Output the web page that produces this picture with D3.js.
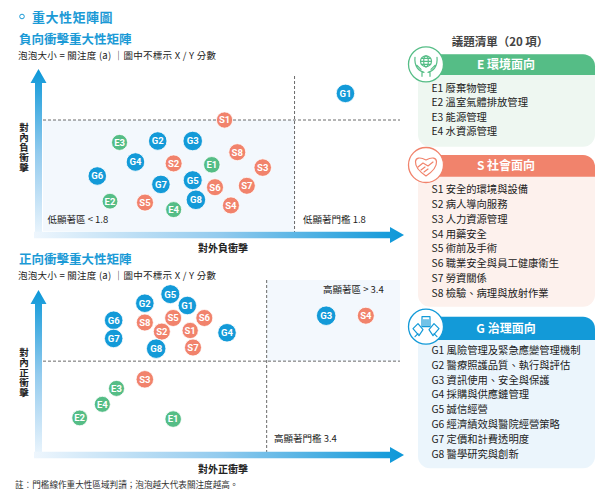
<!DOCTYPE html>
<html>
<head>
<meta charset="utf-8">
<script src="https://cdn.jsdelivr.net/npm/d3@7"></script>
<style>
  body { margin: 0; background: #fff; }
  svg { display: block; font-family: "Noto Sans CJK TC", "Noto Sans", sans-serif; }
</style>
</head>
<body>
<svg id="chart" width="609" height="501"></svg>
<script>
// issue codes, E / S / G
const issues = ["E1","E2","E3","E4","S1","S2","S3","S4","S5","S6","S7","S8","G1","G2","G3","G4","G5","G6","G7","G8"];
// attention (a) -> bubble size
const attention = [3.90,3.75,3.80,3.80, 3.85,4.00,4.10,4.00,4.00,4.00,4.00,4.00, 4.30,4.30,4.50,4.30,4.40,4.30,4.30,4.50];
// negative impact: external (x) / internal (y)
const negExternal = [1.54,1.22,1.25,1.42, 1.58,1.42,1.70,1.60,1.33,1.55,1.65,1.62, 1.96,1.37,1.48,1.30,1.48,1.18,1.38,1.49];
const negInternal = [1.48,1.22,1.64,1.16, 1.80,1.49,1.46,1.19,1.21,1.32,1.33,1.57, 1.99,1.65,1.65,1.50,1.37,1.40,1.34,1.23];
// positive impact: external (x) / internal (y)
const posExternal = [3.07,2.74,2.87,2.82, 3.13,3.03,2.97,3.75,3.07,3.18,3.14,2.97, 3.12,2.97,3.61,3.26,3.06,2.86,2.86,3.01];
const posInternal = [2.89,2.90,3.16,3.02, 3.67,3.66,3.24,3.80,3.78,3.78,3.52,3.74, 3.89,3.91,3.80,3.65,3.99,3.76,3.60,3.51];

const lowThreshold = 1.8;
const highThreshold = 3.4;

const envItems = ["E1 廢棄物管理","E2 溫室氣體排放管理","E3 能源管理","E4 水資源管理"];
const socItems = ["S1 安全的環境與設備","S2 病人導向服務","S3 人力資源管理","S4 用藥安全","S5 術前及手術","S6 職業安全與員工健康衛生","S7 勞資關係","S8 檢驗、病理與放射作業"];
const govItems = ["G1 風險管理及緊急應變管理機制","G2 醫療照護品質、執行與評估","G3 資訊使用、安全與保護","G4 採購與供應鏈管理","G5 誠信經營","G6 經濟績效與醫院經營策略","G7 定價和計費透明度","G8 醫學研究與創新"];

const colors = { E: "#55bd86", S: "#f1836c", G: "#139ad8" };
const blue = "#1b9ad6";

const svg = d3.select("#chart");
const defs = svg.append("defs");

const r = d3.scaleLinear().domain([3.6, 4.6]).range([7.5, 10]);

function gradient(id, x1, y1, x2, y2) {
  const g = defs.append("linearGradient").attr("id", id)
    .attr("gradientUnits", "userSpaceOnUse")
    .attr("x1", x1).attr("y1", y1).attr("x2", x2).attr("y2", y2);
  g.append("stop").attr("offset", 0).attr("stop-color", "#eef6fd");
  g.append("stop").attr("offset", 0.5).attr("stop-color", "#93cbee");
  g.append("stop").attr("offset", 1).attr("stop-color", "#0b97d8");
}

function vArrow(x, yTop, yBottom, id) {
  gradient(id, 0, yBottom, 0, yTop);
  svg.append("path")
    .attr("d", `M${x-3.5},${yBottom} V${yTop+14} H${x-8} L${x},${yTop} L${x+8},${yTop+14} H${x+3.5} V${yBottom} Z`)
    .attr("fill", `url(#${id})`);
}

function hArrow(y, xLeft, xRight, id) {
  gradient(id, xLeft, 0, xRight, 0);
  svg.append("path")
    .attr("d", `M${xLeft},${y-3.3} H${xRight-14} V${y-8} L${xRight},${y} L${xRight-14},${y+8} V${y+3.3} H${xLeft} Z`)
    .attr("fill", `url(#${id})`);
}

function label(x, y, txt, size, weight, fill, anchor) {
  return svg.append("text").attr("x", x).attr("y", y)
    .attr("font-size", size).attr("font-weight", weight || 400)
    .attr("fill", fill || "#222").attr("text-anchor", anchor || "start")
    .text(txt);
}

// upright stacked characters, one text element
function vLabel(x, yTop, txt) {
  svg.append("text").attr("x", x).attr("y", yTop)
    .style("writing-mode", "vertical-rl").style("text-orientation", "upright")
    .attr("letter-spacing", 0.4)
    .attr("font-size", 9.5).attr("font-weight", 700)
    .attr("fill", "#222").text(txt);
}

function bubbles(xs, ys, x, y) {
  const data = issues.map((k, i) => ({ k, a: attention[i], vx: xs[i], vy: ys[i] }));
  const g = svg.append("g").selectAll("g").data(data).join("g")
    .attr("transform", d => `translate(${x(d.vx)},${y(d.vy)})`);
  g.append("circle").attr("r", d => r(d.a))
    .attr("fill", d => colors[d.k[0]]).attr("stroke", "#fff").attr("stroke-width", 0.8);
  g.append("text").attr("text-anchor", "middle").attr("dy", "0.36em")
    .attr("font-family", "Roboto, 'Noto Sans', sans-serif")
    .attr("font-size", 9.5).attr("font-weight", 700).attr("fill", "#fff")
    .text(d => d.k);
}

function dashed(x1, y1, x2, y2) {
  svg.append("line").attr("x1", x1).attr("y1", y1).attr("x2", x2).attr("y2", y2)
    .attr("stroke", "#444").attr("stroke-width", 0.8).attr("stroke-dasharray", "3,2");
}

// ---- header
svg.append("circle").attr("cx", 22).attr("cy", 16.5).attr("r", 2.3)
  .attr("fill", "none").attr("stroke", blue).attr("stroke-width", 1);
label(32, 21.5, "重大性矩陣圖", 13, 700, blue).attr("letter-spacing", 0.5);

// ---- negative matrix
const xNeg = d3.scaleLinear().domain([1.0, 2.1]).range([40, 390]);
const yNeg = d3.scaleLinear().domain([1.0, 2.1]).range([232, 78]);

label(19, 44, "負向衝擊重大性矩陣", 12.5, 700, blue);
label(18, 59, "泡泡大小 = 關注度 (a) ｜圖中不標示 X / Y 分數", 9.5, 400, "#222").attr("letter-spacing", 0.25);

svg.append("rect").attr("x", 43).attr("y", yNeg(lowThreshold))
  .attr("width", xNeg(lowThreshold) - 43).attr("height", 231 - yNeg(lowThreshold))
  .attr("fill", "#f3f8fd");
dashed(43, yNeg(lowThreshold), 400, yNeg(lowThreshold));
dashed(xNeg(lowThreshold), 76, xNeg(lowThreshold), 238);

vArrow(38.5, 69, 238, "gv1");
hArrow(235, 34, 404, "gh1");

label(47.5, 223, "低顯著區 < 1.8", 9.5);
label(303, 223, "低顯著門檻 1.8", 9.5);
label(223, 252, "對外負衝擊", 10, 700, "#222", "middle");
vLabel(24, 123, "對內負衝擊");

bubbles(negExternal, negInternal, xNeg, yNeg);

// ---- positive matrix
const xPos = d3.scaleLinear().domain([2.6, 3.8]).range([40, 380]);
const yPos = d3.scaleLinear().domain([2.6, 4.0]).range([452, 293]);

label(19, 264, "正向衝擊重大性矩陣", 12.5, 700, blue);
label(18, 278.5, "泡泡大小 = 關注度 (a) ｜圖中不標示 X / Y 分數", 9.5, 400, "#222").attr("letter-spacing", 0.25);

svg.append("rect").attr("x", xPos(highThreshold)).attr("y", 280)
  .attr("width", 400 - xPos(highThreshold)).attr("height", yPos(highThreshold) - 280)
  .attr("fill", "#f3f8fd");
dashed(43, yPos(highThreshold), 400, yPos(highThreshold));
dashed(xPos(highThreshold), 280, xPos(highThreshold), 452);

vArrow(38.5, 290, 458, "gv2");
hArrow(455, 34, 404, "gh2");

label(323, 293, "高顯著區 > 3.4", 9.5);
label(274, 442, "高顯著門檻 3.4", 9.5);
label(223, 473, "對外正衝擊", 10, 700, "#222", "middle");
vLabel(24, 348, "對內正衝擊");

bubbles(posExternal, posInternal, xPos, yPos);

label(15, 488, "註：門檻線作重大性區域判讀；泡泡越大代表關注度越高。", 8.6, 400, "#333");

// ---- issue list
label(500, 46, "議題清單（20 項）", 11.5, 700, "#444", "middle");

function icon(g, type, cx, cy, c) {
  const p = g.append("g").attr("fill", "none").attr("stroke", c)
    .attr("stroke-width", 1.2).attr("stroke-linecap", "round").attr("stroke-linejoin", "round");
  if (type === "E") {
    p.append("circle").attr("cx", cx).attr("cy", cy - 3).attr("r", 5.5);
    p.append("ellipse").attr("cx", cx).attr("cy", cy - 3).attr("rx", 2.3).attr("ry", 5.5);
    p.append("path").attr("d", `M${cx-5.5},${cy-3} H${cx+5.5} M${cx-4.6},${cy-6} H${cx+4.6} M${cx-4.6},${cy} H${cx+4.6}`);
    p.append("path").attr("d", `M${cx-11},${cy-7} C${cx-12},${cy+2} ${cx-7},${cy+7} ${cx-2},${cy+8} M${cx-4},${cy+8} V${cy+12} M${cx-9},${cy+1} L${cx-5},${cy+5}`);
    p.append("path").attr("d", `M${cx+11},${cy-7} C${cx+12},${cy+2} ${cx+7},${cy+7} ${cx+2},${cy+8} M${cx+4},${cy+8} V${cy+12} M${cx+9},${cy+1} L${cx+5},${cy+5}`);
  } else if (type === "S") {
    p.append("path").attr("d", `M${cx},${cy+11} C${cx-15},${cy+1} ${cx-13},${cy-12} ${cx},${cy-5} C${cx+13},${cy-12} ${cx+15},${cy+1} ${cx},${cy+11} Z`);
    p.append("path").attr("d", `M${cx-8},${cy+2} L${cx-3},${cy-2} L${cx+2},${cy+1} L${cx+7},${cy-3} M${cx-5},${cy+5} L${cx-1},${cy+2} M${cx-2},${cy+7} L${cx+2},${cy+4}`);
  } else {
    p.append("rect").attr("x", cx - 4).attr("y", cy - 10).attr("width", 8).attr("height", 10);
    p.append("path").attr("d", `M${cx-2},${cy-7} V${cy-1} M${cx},${cy-7} V${cy-1} M${cx+2},${cy-7} V${cy-1}`);
    p.append("path").attr("d", `M${cx-13},${cy+2} L${cx-8},${cy-3} L${cx-3},${cy+3} L${cx-7},${cy+9} Z M${cx-8},${cy+7} L${cx-11},${cy+10}`);
    p.append("path").attr("d", `M${cx+13},${cy+2} L${cx+8},${cy-3} L${cx+3},${cy+3} L${cx+7},${cy+9} Z M${cx+8},${cy+7} L${cx+11},${cy+10}`);
  }
}

function legendBox(type, title, items, top, headBottom, bottom, bodyFill, firstBase, step) {
  const c = colors[type];
  const g = svg.append("g");
  g.append("rect").attr("x", 418).attr("y", top).attr("width", 177).attr("height", bottom - top)
    .attr("rx", 12).attr("fill", bodyFill);
  g.append("path")
    .attr("d", `M426,${top} H583 A12,12 0 0 1 595,${top+12} V${headBottom} H426 Z`)
    .attr("fill", c);
  g.append("circle").attr("cx", 426).attr("cy", top + 10).attr("r", 17.5)
    .attr("fill", "#fff").attr("stroke", c).attr("stroke-width", 1.3);
  icon(g, type, 426, top + 10, c);
  g.append("text").attr("x", 506).attr("y", (top + headBottom) / 2 + 4.5)
    .attr("text-anchor", "middle").attr("font-size", 12).attr("font-weight", 700)
    .attr("fill", "#fff").text(title);
  g.append("g").selectAll("text").data(items).join("text")
    .attr("x", 431.5).attr("y", (d, i) => firstBase + i * step)
    .attr("font-size", 10.3).attr("fill", "#222").text(d => d);
}

legendBox("E", "E 環境面向", envItems, 54.3, 75, 146.7, "#eef7f1", 91.7, 14.5);
legendBox("S", "S 社會面向", socItems, 155, 176.7, 306.7, "#fdf1ed", 193.3, 14.77);
legendBox("G", "G 治理面向", govItems, 316.7, 340, 468.3, "#ebf5fc", 354, 14.8);
</script>
</body>
</html>
